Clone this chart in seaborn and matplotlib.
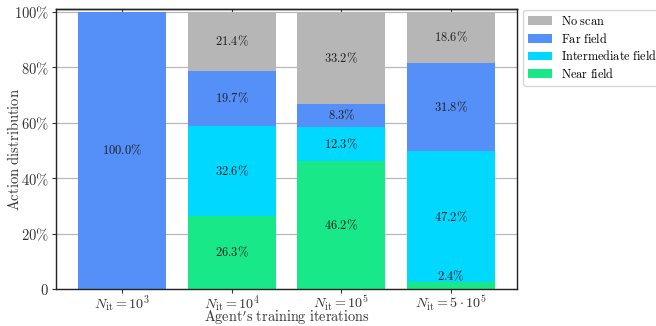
import matplotlib
matplotlib.use('Agg')
import matplotlib.pyplot as plt
import seaborn as sns
import numpy as np
from matplotlib.ticker import FuncFormatter

# Data (percent of actions per training stage)
stages = [r'$N_{\rm it} = 10^3$', r'$N_{\rm it} = 10^4$',
          r'$N_{\rm it} = 10^5$', r'$N_{\rm it} = 5 \cdot 10^5$']
near_field = [0.0, 26.3, 46.2, 2.4]
intermediate_field = [0.0, 32.6, 12.3, 47.2]
far_field = [100.0, 19.7, 8.3, 31.8]
no_scan = [0.0, 21.4, 33.2, 18.6]

series = [('Near field', near_field, '#18e888'),
          ('Intermediate field', intermediate_field, '#00d8ff'),
          ('Far field', far_field, '#558ff8'),
          ('No scan', no_scan, '#b6b6b6')]

plt.rcParams['mathtext.fontset'] = 'cm'
plt.rcParams['font.family'] = 'serif'
plt.rcParams['font.serif'] = ['DejaVu Serif']


def m(s):
    # render plain text in Computer Modern via mathtext
    return r'$\mathrm{' + s.replace(' ', r'\ ') + '}$'


fig = plt.figure(figsize=(6.56, 3.26), dpi=100)
ax = fig.add_axes([0.0854, 0.1135, 0.7027, 0.8589])
ax.set_axisbelow(True)
ax.yaxis.grid(True, color='#b8b8b8', linewidth=0.9)

bottom = np.zeros(len(stages))
for name, vals, col in series:
    vals = np.array(vals)
    sns.barplot(x=stages, y=vals, color=col, saturation=1, width=0.8,
                bottom=bottom, errorbar=None, label=m(name), ax=ax)
    for i, v in enumerate(vals):
        if v <= 0:
            continue
        y = bottom[i] + v / 2 if v >= 5 else bottom[i] + v + 2.3
        ax.text(i, y, r'$%.1f\%%$' % v, ha='center', va='center',
                fontsize=9, color='#222222')
    bottom = bottom + vals

ax.set_xlim(-0.6, 3.6)
ax.set_ylim(0, 101)
ax.set_yticks([0, 20, 40, 60, 80, 100])
ax.yaxis.set_major_formatter(FuncFormatter(
    lambda v, p: r'$0$' if v == 0 else r'$%d\%%$' % v))
ax.tick_params(axis='both', labelsize=10.5, colors='#333333',
               labelcolor='#333333', length=3, pad=2)
ax.tick_params(axis='x', pad=0, labelsize=10.2)

# inward ticks along the top edge
top = ax.secondary_xaxis('top')
top.set_xticks(range(len(stages)))
top.tick_params(direction='in', length=3, colors='#333333', labeltop=False)

ax.set_ylabel(m('Action distribution'), fontsize=10.5, color='#333333')
ax.set_xlabel(m("Agent's training iterations"), fontsize=10.3, color='#333333')
ax.yaxis.set_label_coords(-0.074, 0.5)
ax.xaxis.set_label_coords(0.5, -0.07)
for s in list(ax.spines.values()) + [top.spines['top']]:
    s.set_color('#222222')
    s.set_linewidth(1.0)

h, l = ax.get_legend_handles_labels()
ax.legend(h[::-1], l[::-1], loc='upper left', bbox_to_anchor=(1.008, 1.005),
          fontsize=8.8, frameon=True, edgecolor='#cccccc', handlelength=2.0,
          handletextpad=0.7, borderpad=0.4, borderaxespad=0.2, labelspacing=0.3)

fig.savefig('out.png', dpi=100)
